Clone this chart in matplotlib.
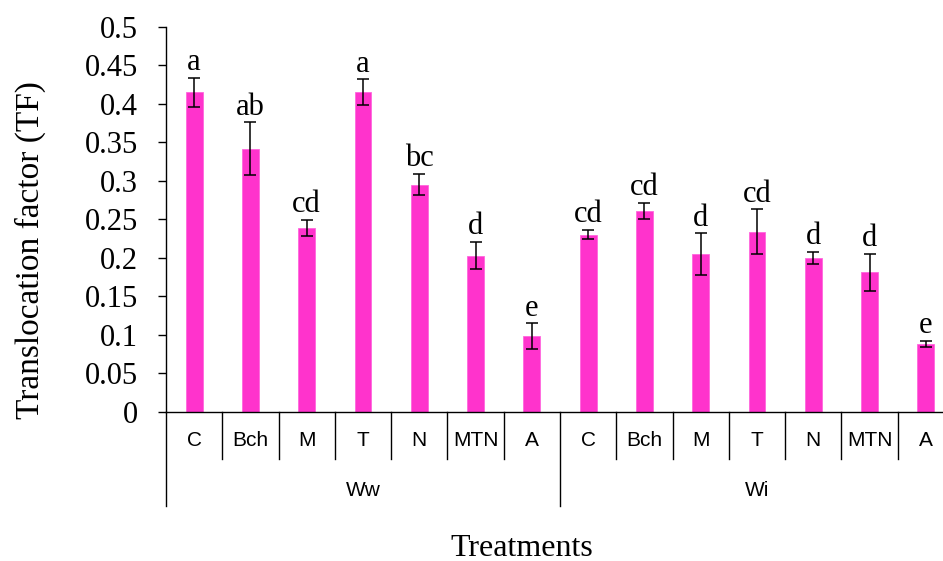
import matplotlib.pyplot as plt
import matplotlib.transforms as mtransforms
import numpy as np

# Datos
groups = ["Ww", "Wi"]
treatments = ["C", "Bch", "M", "T", "N", "MTN", "A"]
tf_ww = [0.415, 0.342, 0.239, 0.415, 0.295, 0.203, 0.098]
err_ww = [0.019, 0.034, 0.010, 0.017, 0.014, 0.018, 0.017]
tf_wi = [0.230, 0.261, 0.205, 0.234, 0.200, 0.181, 0.088]
err_wi = [0.006, 0.010, 0.027, 0.029, 0.008, 0.024, 0.004]
letters_ww = ["a", "ab", "cd", "a", "bc", "d", "e"]
letters_wi = ["cd", "cd", "d", "cd", "d", "d", "e"]

values = tf_ww + tf_wi
errors = err_ww + err_wi
letters = letters_ww + letters_wi
labels = treatments * len(groups)
x = np.arange(len(values))

serif = "Liberation Serif"
narrow = ["Liberation Sans Narrow", "Liberation Sans"]

fig = plt.figure(figsize=(9.43, 5.61), dpi=100)
ax = fig.add_axes([166 / 943, 149.3 / 561, 788 / 943, 384.7 / 561])

ax.bar(x, values, width=0.30, color="#ff33cc", edgecolor="#ff66dd", linewidth=0.6,
       yerr=errors, capsize=4, error_kw=dict(ecolor="black", elinewidth=1.1, capthick=1.1))

for xi, v, e, t in zip(x, values, errors, letters):
    ax.annotate(t, (xi, v + e), xytext=(0, 0.5), textcoords="offset points",
                ha="center", va="bottom", fontsize=22, family=serif)

ax.set_xlim(-0.5, len(values) - 0.5)
ax.set_ylim(0, 0.5)
ax.set_yticks(np.arange(0, 0.501, 0.05))
ax.set_yticklabels(["0", "0.05", "0.1", "0.15", "0.2", "0.25", "0.3", "0.35",
                    "0.4", "0.45", "0.5"], fontsize=22, family=serif)
ax.tick_params(axis="y", direction="out", length=6, width=1, pad=14)
ax.set_xticks([])
for s in ["top", "right"]:
    ax.spines[s].set_visible(False)
ax.spines["left"].set_linewidth(1)
ax.spines["bottom"].set_linewidth(1)

# Ejes categoricos de dos niveles
trans = mtransforms.blended_transform_factory(ax.transData, fig.transFigure)
y0 = 149.3 / 561
y_short = (561 - 459) / 561
y_long = (561 - 506) / 561
n = len(treatments)
for i in range(len(values) + 1):
    yb = y_long if i % n == 0 else y_short
    ax.plot([i - 0.5, i - 0.5], [y0, yb], color="black", lw=1, transform=trans, clip_on=False)
for xi, lab in zip(x, labels):
    ax.text(xi, (561 - 441) / 561, lab, transform=trans, ha="center", va="center",
            fontsize=15, family=narrow)
for gi, g in enumerate(groups):
    ax.text(gi * n + (n - 1) / 2, (561 - 490) / 561, g, transform=trans, ha="center",
            va="center", fontsize=15, family=narrow)

fig.text(522 / 943, (561 - 548) / 561, "Treatments", ha="center", va="center",
         fontsize=23, family=serif)
fig.text(30 / 943, (561 - 250) / 561, "Translocation factor (TF)", ha="center", va="center",
         rotation=90, fontsize=24, family=serif)

fig.savefig("out.png", dpi=100)
